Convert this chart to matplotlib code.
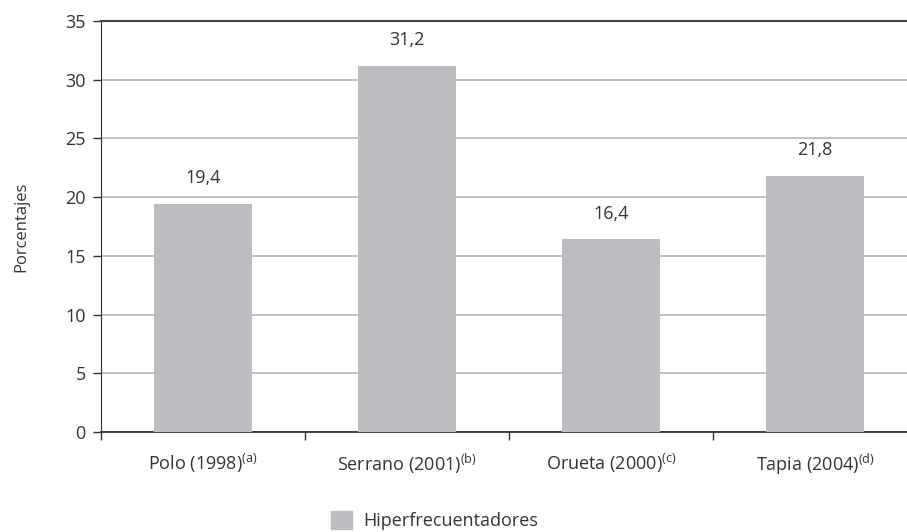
import matplotlib.pyplot as plt
from matplotlib.patches import Patch

plt.rcParams['font.family'] = ['Open Sans', 'DejaVu Sans']
plt.rcParams['text.color'] = '#333333'
plt.rcParams['axes.labelcolor'] = '#333333'
plt.rcParams['xtick.color'] = '#333333'
plt.rcParams['ytick.color'] = '#333333'

estudios = ["Polo (1998)", "Serrano (2001)", "Orueta (2000)", "Tapia (2004)"]
notas = ["(a)", "(b)", "(c)", "(d)"]
hiperfrecuentadores = [19.4, 31.2, 16.4, 21.8]
yticks = [0, 5, 10, 15, 20, 25, 30, 35]

bar_color = "#bcbdc0"

fig = plt.figure(figsize=(9.07, 5.32), dpi=100)
ax = fig.add_axes([0.1114, 0.188, 0.8997, 0.7726])

x = range(len(estudios))
ax.bar(x, hiperfrecuentadores, width=0.48, color=bar_color, zorder=3)

for xi, v in zip(x, hiperfrecuentadores):
    ax.annotate(f"{v:.1f}".replace(".", ","), (xi, v), xytext=(0, 12),
                textcoords="offset points", ha="center", va="bottom",
                fontsize=13)

ax.set_xlim(-0.5, len(estudios) - 0.5)
ax.set_ylim(0, 35)
ax.set_yticks(yticks)
ax.yaxis.grid(True, color="#b5b5b5", linewidth=1.2, zorder=0)
ax.tick_params(axis="y", labelsize=13, length=6, width=1, pad=5)

# category labels centred, ticks on the category boundaries
ax.set_xticks([i - 0.5 for i in range(len(estudios) + 1)])
ax.set_xticklabels([])
ax.tick_params(axis="x", length=6, width=1, direction="out")
ax.set_xticks(list(x), minor=True)
ax.set_xticklabels([f"{e}" + r"$^{\mathregular{" + n + "}}$" for e, n in zip(estudios, notas)],
                   minor=True, fontsize=13)
ax.tick_params(axis="x", which="minor", length=0, pad=14)

ax.spines["right"].set_visible(False)
ax.spines["top"].set_color("#444444")
ax.spines["top"].set_linewidth(1.5)
ax.spines["left"].set_color("#333333")
ax.spines["bottom"].set_color("#333333")
ax.spines["bottom"].set_linewidth(1.3)

ax.set_ylabel("Porcentajes", fontsize=12, labelpad=26)

fig.legend(handles=[Patch(color=bar_color, label="Hiperfrecuentadores")],
           loc="center", bbox_to_anchor=(0.479, 0.022), frameon=False,
           fontsize=13, handlelength=1.2, handleheight=1.2, handletextpad=0.6)

fig.savefig("out.png", dpi=100)
